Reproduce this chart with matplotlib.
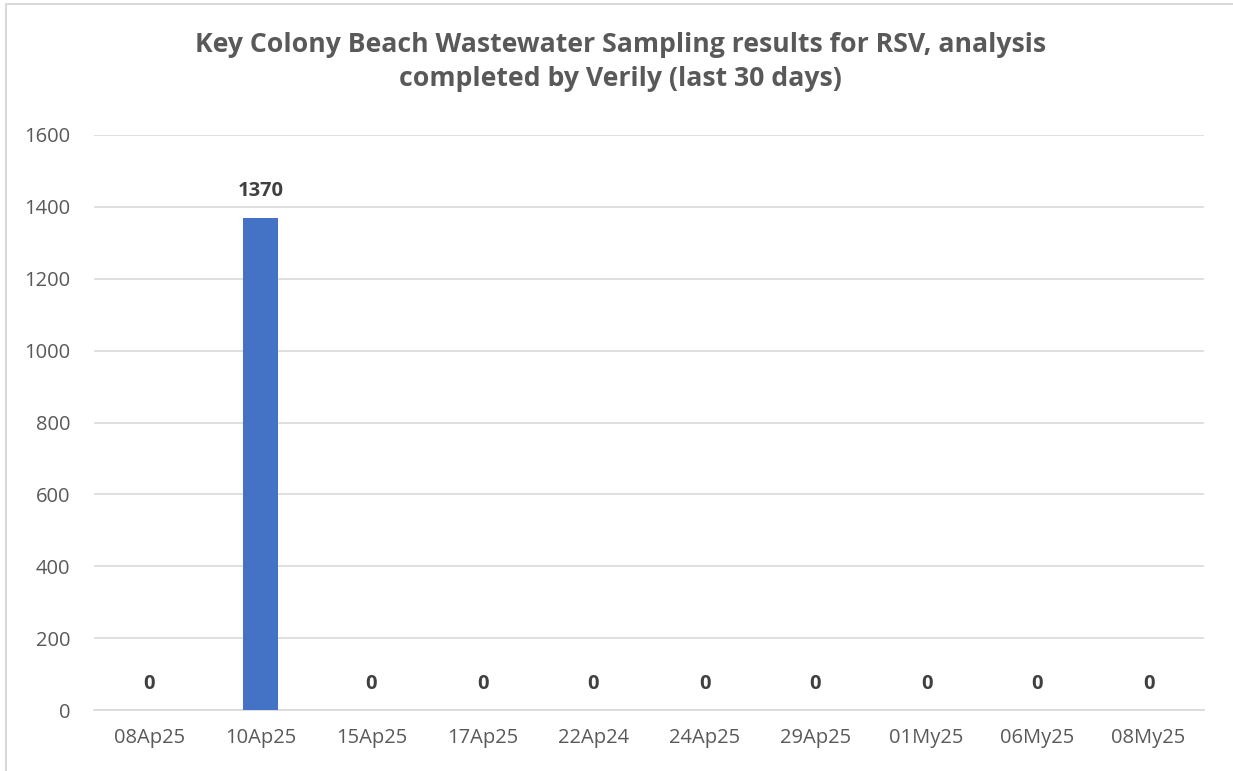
import matplotlib
matplotlib.use("Agg")
import matplotlib.pyplot as plt
from matplotlib.patches import Rectangle

categories = ["08Ap25", "10Ap25", "15Ap25", "17Ap25", "22Ap24", "24Ap25",
              "29Ap25", "01My25", "06My25", "08My25"]
values = [0, 1370, 0, 0, 0, 0, 0, 0, 0, 0]
yticks = [0, 200, 400, 600, 800, 1000, 1200, 1400, 1600]
title = "Key Colony Beach Wastewater Sampling results for RSV, analysis\ncompleted by Verily (last 30 days)"

plt.rcParams['font.family'] = ['Open Sans', 'DejaVu Sans']

W, H = 1233, 771
fig = plt.figure(figsize=(W / 100, H / 100), dpi=100)
fig.patch.set_facecolor("white")

# chart border
fig.add_artist(Rectangle((6 / W, -0.01), 1.1, 1 - 4 / H + 0.01, transform=fig.transFigure,
                         fill=False, edgecolor="#d9d9d9", linewidth=1.5))

left, right = 94 / W, 1204 / W
bottom, top = 1 - 710 / H, 1 - 135 / H
ax = fig.add_axes([left, bottom, right - left, top - bottom])

x = list(range(len(categories)))
ax.bar(x, values, width=0.315, color="#4472C4", zorder=3)
ax.set_xlim(-0.5, len(categories) - 0.5)
ax.set_ylim(0, 1600)
ax.set_yticks(yticks)
ax.set_yticklabels([str(v) for v in yticks])
ax.set_xticks(x)
ax.set_xticklabels(categories)
ax.grid(axis="y", color="#d9d9d9", linewidth=1.2, zorder=0)
ax.set_axisbelow(True)
for s in ["top", "right", "left"]:
    ax.spines[s].set_visible(False)
ax.spines["bottom"].set_color("#d9d9d9")
ax.spines["bottom"].set_linewidth(1.2)
ax.tick_params(axis="both", length=0, labelsize=14.5, labelcolor="#595959")
ax.tick_params(axis="y", pad=17)
ax.tick_params(axis="x", pad=13)

for xi, v in zip(x, values):
    ax.annotate(str(v), (xi, v), xytext=(0, 19), textcoords="offset points",
                ha="center", va="center", fontsize=14.5, fontweight="bold", color="#404040")

fig.text(0.503, 1 - 62 / H, title, ha="center", va="center", fontsize=19.2,
         fontweight="bold", color="#595959", linespacing=1.42)

fig.savefig("out.png", dpi=100, facecolor="white")
